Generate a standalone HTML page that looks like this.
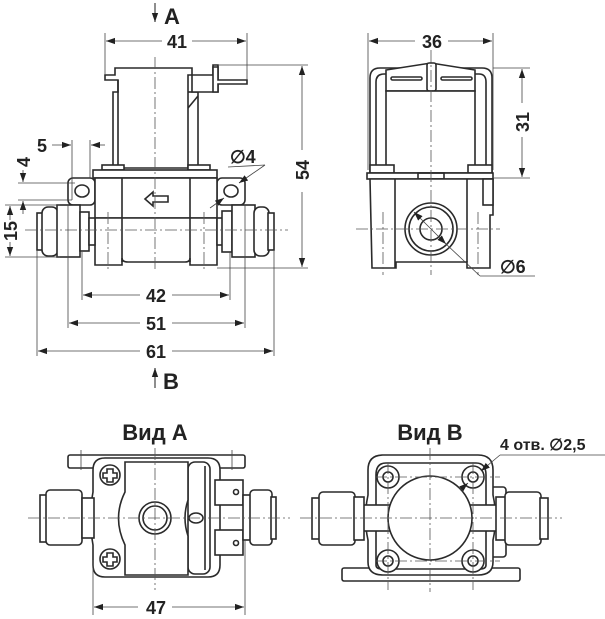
<!DOCTYPE html>
<html><head><meta charset="utf-8"><style>
html,body{margin:0;padding:0;background:#fff}
svg{display:block}
text{font-family:"Liberation Sans",sans-serif;fill:#222}
.o{fill:none;stroke:#2a2a2a;stroke-width:1.6}
.w{fill:#fff;stroke:#2a2a2a;stroke-width:1.6}
.t{fill:none;stroke:#444;stroke-width:0.8}
.c{fill:none;stroke:#555;stroke-width:0.8;stroke-dasharray:12 3 2 3}
.d{font-size:18px;font-weight:bold}
</style></head><body>
<svg width="605" height="619" viewBox="0 0 605 619" xmlns="http://www.w3.org/2000/svg">
<defs>
<marker id="a" viewBox="0 0 10 10" refX="10" refY="5" markerWidth="9" markerHeight="9" orient="auto-start-reverse" markerUnits="userSpaceOnUse"><path d="M0,1.5L10,5L0,8.5z" fill="#222"/></marker>
</defs>

<!-- ============ FRONT VIEW ============ -->
<path class="w" d="M115,68H192V75H188V168H113V92H118V80H105V75H115Z"/>
<line class="o" x1="118" y1="80" x2="118" y2="168"/>
<line class="o" x1="188" y1="92" x2="198" y2="92"/>
<line class="o" x1="198" y1="92" x2="198" y2="168"/>
<line class="o" x1="188" y1="108" x2="198" y2="96"/>
<path class="w" d="M192,75V92H218V65H213V75Z"/>
<path class="w" d="M218,67H213V92H218V84H247V80H218Z"/>
<rect class="w" x="102" y="165" width="22" height="5"/>
<rect class="w" x="188" y="165" width="22" height="5"/>
<rect class="w" x="93" y="170" width="124" height="8"/>
<rect class="w" x="68" y="178" width="27" height="27" rx="5"/>
<rect class="w" x="217" y="178" width="28" height="27" rx="5"/>
<ellipse class="o" cx="82" cy="191" rx="7" ry="6"/>
<ellipse class="o" cx="231" cy="191" rx="7" ry="6"/>
<rect class="w" x="95" y="178" width="122" height="40"/>
<path class="w" d="M95,218H217V265H190V258Q190,262 185,262H128Q122,262 122,258V265H95Z"/>
<line class="o" x1="122" y1="178" x2="122" y2="262"/>
<line class="o" x1="190" y1="178" x2="190" y2="262"/>
<path class="o" d="M145,199L153,192V196H168V202H153V206Z"/>
<rect class="w" x="37" y="213" width="6" height="37"/>
<rect class="w" x="42" y="207" width="16" height="49" rx="6"/>
<rect class="w" x="57" y="205" width="23" height="52"/>
<rect class="w" x="80" y="212" width="9" height="39"/>
<rect class="w" x="89" y="218" width="6" height="27"/>
<rect class="w" x="217" y="218" width="6" height="27"/>
<rect class="w" x="222" y="211" width="10" height="41"/>
<rect class="w" x="232" y="205" width="23" height="52"/>
<rect class="w" x="254" y="207" width="15" height="49" rx="6"/>
<rect class="w" x="268" y="213" width="6" height="37"/>
<line class="c" x1="155" y1="57" x2="155" y2="272"/>
<line class="c" x1="25" y1="230" x2="288" y2="230"/>
<line class="c" x1="108" y1="212" x2="108" y2="272"/>
<line class="c" x1="204" y1="212" x2="204" y2="272"/>
<line class="t" x1="105" y1="33" x2="105" y2="75"/>
<line class="t" x1="247" y1="33" x2="247" y2="80"/>
<line class="t" x1="218" y1="65" x2="308" y2="65"/>
<line class="t" x1="217" y1="268" x2="308" y2="268"/>
<line class="t" x1="82" y1="252" x2="82" y2="300"/>
<line class="t" x1="230" y1="252" x2="230" y2="300"/>
<line class="t" x1="68" y1="205" x2="68" y2="328"/>
<line class="t" x1="245" y1="205" x2="245" y2="328"/>
<line class="t" x1="37" y1="250" x2="37" y2="356"/>
<line class="t" x1="274" y1="250" x2="274" y2="356"/>
<line class="t" x1="72" y1="140" x2="72" y2="200"/>
<line class="t" x1="90" y1="140" x2="90" y2="178"/>
<line class="t" x1="18" y1="183" x2="75" y2="183"/>
<line class="t" x1="18" y1="200" x2="72" y2="200"/>
<line class="t" x1="5" y1="205" x2="60" y2="205"/>
<line class="t" x1="5" y1="257" x2="60" y2="257"/>
<line class="t" x1="106" y1="41" x2="162" y2="41" marker-start="url(#a)"/>
<line class="t" x1="192" y1="41" x2="246" y2="41" marker-end="url(#a)"/>
<text class="d" x="177" y="48" text-anchor="middle">41</text>
<line class="t" x1="302" y1="66" x2="302" y2="150" marker-start="url(#a)"/>
<line class="t" x1="302" y1="192" x2="302" y2="267" marker-end="url(#a)"/>
<text class="d" transform="translate(309,170) rotate(-90)" text-anchor="middle">54</text>
<line class="t" x1="83" y1="295" x2="140" y2="295" marker-start="url(#a)"/>
<line class="t" x1="172" y1="295" x2="229" y2="295" marker-end="url(#a)"/>
<text class="d" x="156" y="302" text-anchor="middle">42</text>
<line class="t" x1="69" y1="323" x2="140" y2="323" marker-start="url(#a)"/>
<line class="t" x1="172" y1="323" x2="244" y2="323" marker-end="url(#a)"/>
<text class="d" x="156" y="330" text-anchor="middle">51</text>
<line class="t" x1="38" y1="351" x2="140" y2="351" marker-start="url(#a)"/>
<line class="t" x1="172" y1="351" x2="273" y2="351" marker-end="url(#a)"/>
<text class="d" x="156" y="358" text-anchor="middle">61</text>
<line class="t" x1="52" y1="145" x2="71" y2="145" marker-end="url(#a)"/>
<line class="t" x1="105" y1="145" x2="91" y2="145" marker-end="url(#a)"/>
<text class="d" x="42" y="152" text-anchor="middle">5</text>
<line class="t" x1="23" y1="170" x2="23" y2="182" marker-end="url(#a)"/>
<line class="t" x1="23" y1="214" x2="23" y2="201" marker-end="url(#a)"/>
<text class="d" transform="translate(30,162) rotate(-90)" text-anchor="middle">4</text>
<line class="t" x1="10" y1="206" x2="10" y2="256" marker-start="url(#a)" marker-end="url(#a)"/>
<rect x="2" y="220" width="16" height="22" fill="#fff"/>
<text class="d" transform="translate(17,231) rotate(-90)" text-anchor="middle">15</text>
<text class="d" x="230" y="163">∅4</text>
<line class="t" x1="228" y1="167" x2="265" y2="165"/>
<line class="t" x1="265" y1="165" x2="239" y2="183" marker-end="url(#a)"/>
<line class="t" x1="210" y1="208" x2="224" y2="198" marker-end="url(#a)"/>
<line class="t" x1="155" y1="3" x2="155" y2="22" marker-end="url(#a)" style="stroke-width:1.2"/>
<text x="164" y="24" style="font-size:22px;font-weight:bold">A</text>
<line class="t" x1="155" y1="388" x2="155" y2="368" marker-end="url(#a)" style="stroke-width:1.2"/>
<text x="163" y="389" style="font-size:22px;font-weight:bold">B</text>

<!-- ============ SIDE VIEW ============ -->
<path class="w" d="M370,173V78Q370,68 380,68H482Q492,68 492,78V173Z"/>
<path class="o" d="M376,173V82Q376,74 384,74H479Q486,74 486,82V173"/>
<path class="w" d="M386,91V70L431,63L475,70V91Z"/>
<rect class="w" x="427" y="63" width="9" height="28" rx="2"/>
<rect class="o" x="391" y="77" width="31" height="3" rx="1.5"/>
<rect class="o" x="441" y="77" width="31" height="3" rx="1.5"/>
<path class="o" d="M402,91V100H405V91M456,91V100H459V91"/>
<rect class="w" x="386" y="91" width="89" height="82"/>
<rect class="w" x="370" y="165" width="24" height="8"/>
<rect class="w" x="468" y="165" width="24" height="8"/>
<rect class="w" x="367" y="173" width="126" height="6"/>
<rect class="o" x="418" y="173" width="26" height="6"/>
<path class="w" d="M370,179H493V215H490V268H467V262H396V268H372Z"/>
<line class="o" x1="395" y1="179" x2="395" y2="268"/>
<line class="o" x1="467" y1="179" x2="467" y2="262"/>
<rect class="w" x="483" y="179" width="10" height="26"/>
<circle class="w" cx="431" cy="229" r="26"/>
<circle class="o" cx="431" cy="229" r="22"/>
<circle class="o" cx="431" cy="229" r="11"/>
<line class="c" x1="431" y1="50" x2="431" y2="275"/>
<line class="c" x1="356" y1="229" x2="500" y2="229"/>
<line class="c" x1="383" y1="212" x2="383" y2="275"/>
<line class="c" x1="478" y1="212" x2="478" y2="275"/>
<line class="t" x1="368" y1="33" x2="368" y2="170"/>
<line class="t" x1="493" y1="33" x2="493" y2="170"/>
<line class="t" x1="493" y1="68" x2="530" y2="68"/>
<line class="t" x1="493" y1="178" x2="530" y2="178"/>
<line class="t" x1="369" y1="41" x2="415" y2="41" marker-start="url(#a)"/>
<line class="t" x1="448" y1="41" x2="492" y2="41" marker-end="url(#a)"/>
<text class="d" x="432" y="48" text-anchor="middle">36</text>
<line class="t" x1="522" y1="69" x2="522" y2="103" marker-start="url(#a)"/>
<line class="t" x1="522" y1="137" x2="522" y2="177" marker-end="url(#a)"/>
<text class="d" transform="translate(529,122) rotate(-90)" text-anchor="middle">31</text>
<line class="t" x1="414" y1="212" x2="446" y2="244" marker-start="url(#a)" marker-end="url(#a)"/>
<line class="t" x1="446" y1="244" x2="480" y2="276"/>
<line class="t" x1="480" y1="276" x2="535" y2="276"/>
<text class="d" x="500" y="273">∅6</text>

<!-- ============ VIEW A ============ -->
<text x="155" y="440" text-anchor="middle" style="font-size:22px;font-weight:bold">Вид А</text>
<rect class="w" x="68" y="455" width="177" height="13" rx="2"/>
<path class="w" d="M105,458H208Q220,458 220,470V565Q220,577 208,577H105Q93,577 93,565V545Q88,517 93,492V470Q93,458 105,458Z"/>
<rect class="w" x="215" y="480" width="28" height="25"/>
<rect class="w" x="215" y="530" width="28" height="25"/>
<circle class="o" cx="236" cy="492" r="2.5"/><circle class="o" cx="236" cy="543" r="2.5"/>
<rect class="w" x="188" y="462" width="22" height="112" rx="7"/>
<line class="o" x1="205" y1="466" x2="205" y2="570"/>
<path class="w" d="M125,462H188V500Q182,518 188,536V575H125V545Q112,518 125,492Z"/>
<circle class="w" cx="110" cy="475" r="10"/><circle class="w" cx="110" cy="559" r="10"/>
<path class="o" d="M107,469h6v4h4v5h-4v4h-6v-4h-4v-5h4z"/>
<path class="o" d="M107,553h6v4h4v5h-4v4h-6v-4h-4v-5h4z"/>
<circle class="w" cx="155" cy="518" r="16"/><circle class="o" cx="155" cy="518" r="12"/>
<ellipse class="w" cx="196" cy="518" rx="7" ry="5"/>
<rect class="w" x="40" y="495" width="7" height="47"/>
<rect class="w" x="46" y="490" width="36" height="55" rx="4"/>
<rect class="w" x="82" y="498" width="12" height="40"/>
<rect class="w" x="243" y="495" width="10" height="45"/>
<rect class="w" x="250" y="490" width="22" height="55" rx="4"/>
<rect class="w" x="271" y="497" width="5" height="42"/>
<line class="c" x1="155" y1="448" x2="155" y2="590"/>
<line class="c" x1="28" y1="518" x2="290" y2="518"/>
<line class="t" x1="81" y1="450" x2="81" y2="470"/>
<line class="t" x1="232" y1="450" x2="232" y2="470"/>
<line class="t" x1="93" y1="560" x2="93" y2="615"/>
<line class="t" x1="245" y1="540" x2="245" y2="615"/>
<line class="t" x1="94" y1="607" x2="138" y2="607" marker-start="url(#a)"/>
<line class="t" x1="172" y1="607" x2="244" y2="607" marker-end="url(#a)"/>
<text class="d" x="156" y="614" text-anchor="middle">47</text>

<!-- ============ VIEW B ============ -->
<text x="430" y="440" text-anchor="middle" style="font-size:22px;font-weight:bold">Вид В</text>
<rect class="w" x="342" y="568" width="178" height="13" rx="2"/>
<rect class="w" x="486" y="487" width="20" height="70" rx="3"/>
<path class="w" d="M383,455H478Q493,455 493,470V495Q498,518 493,540V562Q493,575 478,575H383Q368,575 368,562V540Q363,518 368,495V470Q368,455 383,455Z"/>
<path class="o" d="M386,463H476Q486,463 486,475V565Q486,569 480,569H382Q376,569 376,565V475Q376,463 386,463Z"/>
<rect class="w" x="360" y="505" width="140" height="26"/>
<circle class="w" cx="430" cy="518" r="42"/>
<g>
<circle class="w" cx="388" cy="477" r="11"/><circle class="o" cx="388" cy="477" r="5"/>
<circle class="w" cx="473" cy="477" r="11"/><circle class="o" cx="473" cy="477" r="5"/>
<circle class="w" cx="388" cy="561" r="11"/><circle class="o" cx="388" cy="561" r="5"/>
<circle class="w" cx="473" cy="561" r="11"/><circle class="o" cx="473" cy="561" r="5"/>
</g>
<rect class="w" x="312" y="498" width="8" height="41"/>
<rect class="w" x="319" y="492" width="36" height="53" rx="4"/>
<rect class="w" x="354" y="497" width="10" height="43"/>
<rect class="w" x="496" y="497" width="10" height="43"/>
<rect class="w" x="505" y="492" width="36" height="53" rx="4"/>
<rect class="w" x="540" y="498" width="8" height="41"/>
<line class="c" x1="430" y1="448" x2="430" y2="592"/>
<line class="c" x1="300" y1="518" x2="562" y2="518"/>
<line class="c" x1="375" y1="477" x2="500" y2="477"/>
<line class="c" x1="375" y1="561" x2="500" y2="561"/>
<line class="c" x1="388" y1="462" x2="388" y2="590"/>
<line class="c" x1="473" y1="462" x2="473" y2="590"/>
<line class="t" x1="460" y1="490" x2="468" y2="483" marker-end="url(#a)"/>
<line class="t" x1="500" y1="455" x2="481" y2="471" marker-end="url(#a)"/>
<line class="t" x1="500" y1="455" x2="605" y2="455"/>
<text x="500" y="450" style="font-size:16px;font-weight:bold">4 отв. ∅2,5</text>
</svg>
</body></html>
